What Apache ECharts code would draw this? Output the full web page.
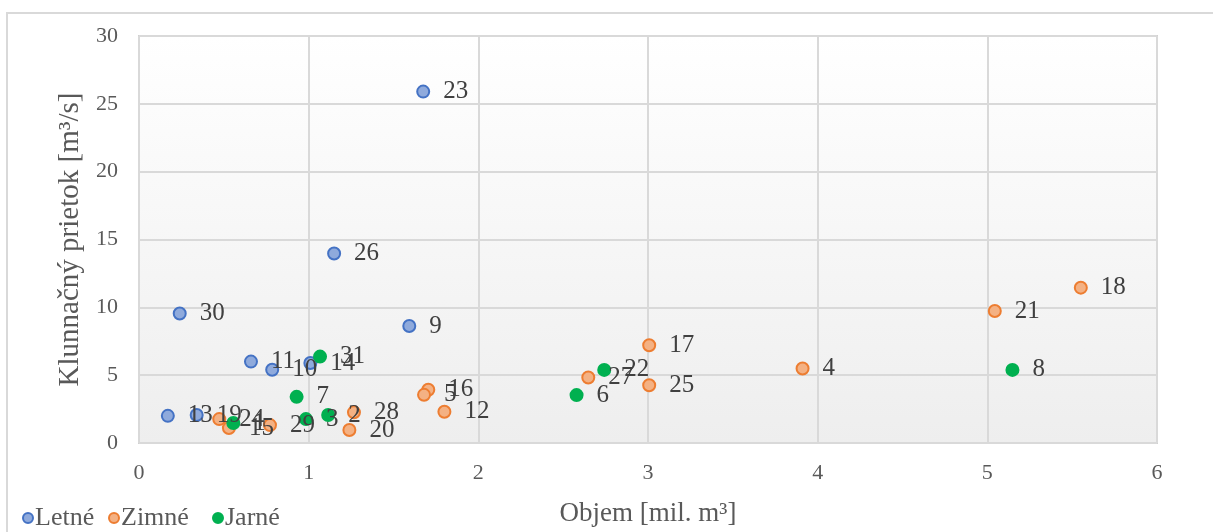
<!DOCTYPE html>
<html>
<head>
<meta charset="utf-8">
<script src="https://cdn.jsdelivr.net/npm/echarts@6/dist/echarts.min.js"></script>
<style>
  html, body { margin: 0; padding: 0; background: #ffffff; }
  #chart { width: 1213px; height: 532px; }
</style>
</head>
<body>
<div id="chart"></div>
<script>
// Event numbers, volumes [mil. m3] and peak flows [m3/s] per season
const letneId = [13, 19, 11, 10, 14, 30, 26, 23, 9];
const letneX  = [0.17, 0.34, 0.66, 0.785, 1.01, 0.24, 1.15, 1.675, 1.593];
const letneY  = [2.0, 2.06, 6.0, 5.4, 5.9, 9.55, 13.97, 25.9, 8.62];

const zimneId = [24, 15, 29, 28, 20, 16, 5, 12, 17, 27, 25, 4, 21, 18];
const zimneX  = [0.473, 0.53, 0.772, 1.267, 1.24, 1.705, 1.68, 1.80, 3.007, 2.648, 3.007, 3.911, 5.044, 5.551];
const zimneY  = [1.76, 1.1, 1.32, 2.26, 0.96, 3.92, 3.55, 2.30, 7.2, 4.83, 4.26, 5.49, 9.73, 11.45];

const jarneId = [31, 7, 1, 3, 2, 22, 6, 8];
const jarneX  = [1.067, 0.929, 0.556, 0.984, 1.115, 2.742, 2.579, 5.148];
const jarneY  = [6.37, 3.40, 1.47, 1.76, 2.06, 5.39, 3.53, 5.39];

const seasonNames = ['Letné', 'Zimné', 'Jarné'];

const xTicks = [0, 1, 2, 3, 4, 5, 6];
const yTicks = [0, 5, 10, 15, 20, 25, 30];

const FONT = "'Liberation Serif', 'Times New Roman', serif";

function points(xs, ys, ids) {
  return xs.map((x, i) => [x, ys[i], ids[i]]);
}

function season(name, xs, ys, ids, fill, stroke) {
  return {
    name: name,
    type: 'scatter',
    data: points(xs, ys, ids),
    symbol: 'circle',
    symbolSize: 12,
    itemStyle: { color: fill, borderColor: stroke, borderWidth: 2, opacity: 1 },
    label: {
      show: true,
      position: 'right',
      distance: 13,
      formatter: p => String(p.value[2]),
      fontFamily: FONT,
      fontSize: 25,
      color: '#404040'
    },
    emphasis: { disabled: true }
  };
}

// one legend entry per block so each entry sits at its own offset
function legendEntry(name, left) {
  return {
    data: [name],
    left: left,
    top: 500,
    itemWidth: 10,
    itemHeight: 10,
    icon: 'circle',
    selectedMode: false,
    textStyle: { fontFamily: FONT, fontSize: 26, color: '#595959', padding: [0, 0, 0, -3] }
  };
}

const chart = echarts.init(document.getElementById('chart'), null, { renderer: 'canvas' });

chart.setOption({
  animation: false,
  backgroundColor: '#ffffff',
  graphic: [{
    type: 'rect',
    z: -10,
    shape: { x: 7, y: 13, width: 1212, height: 540 },
    style: { fill: null, stroke: '#d9d9d9', lineWidth: 2 }
  }],
  grid: {
    left: 139, right: 56, top: 36, bottom: 89,
    show: true,
    borderColor: '#d0d0d0',
    borderWidth: 2,
    backgroundColor: new echarts.graphic.LinearGradient(0, 0, 0, 1, [
      { offset: 0, color: '#ffffff' },
      { offset: 1, color: '#eeeeee' }
    ])
  },
  legend: [
    legendEntry(seasonNames[0], 17),
    legendEntry(seasonNames[1], 103),
    legendEntry(seasonNames[2], 207)
  ],
  xAxis: {
    type: 'value',
    min: xTicks[0],
    max: xTicks[xTicks.length - 1],
    interval: 1,
    name: 'Objem [mil. m³]',
    nameLocation: 'middle',
    nameGap: 57,
    nameTextStyle: { fontFamily: FONT, fontSize: 27, color: '#595959' },
    axisLine: { show: false },
    axisTick: { show: false },
    axisLabel: { margin: 19, fontFamily: FONT, fontSize: 22, color: '#595959' },
    splitLine: { show: true, lineStyle: { color: '#d9d9d9', width: 2 } }
  },
  yAxis: {
    type: 'value',
    min: yTicks[0],
    max: yTicks[yTicks.length - 1],
    interval: 5,
    name: 'Klunnačný prietok [m³/s]',
    nameLocation: 'middle',
    nameGap: 47,
    nameTextStyle: { fontFamily: FONT, fontSize: 29, color: '#595959' },
    axisLine: { show: false },
    axisTick: { show: false },
    axisLabel: { margin: 21, fontFamily: FONT, fontSize: 22, color: '#595959' },
    splitLine: { show: true, lineStyle: { color: '#d9d9d9', width: 2 } }
  },
  series: [
    season(seasonNames[0], letneX, letneY, letneId, '#8faadc', '#4472c4'),
    season(seasonNames[1], zimneX, zimneY, zimneId, '#f4b183', '#ed7d31'),
    season(seasonNames[2], jarneX, jarneY, jarneId, '#00b050', '#00b050')
  ]
});
</script>
</body>
</html>
